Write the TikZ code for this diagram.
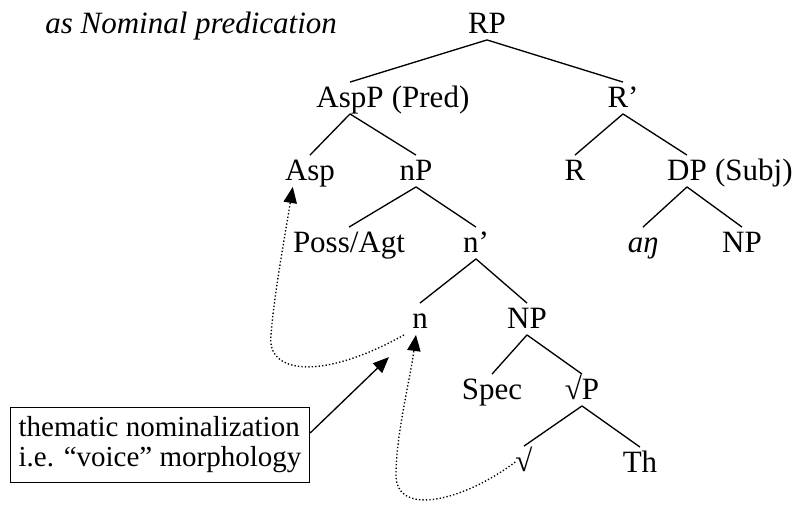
\documentclass[tikz,border=0pt]{standalone}
\usepackage{fontspec}
\setmainfont{Liberation Serif}
\usetikzlibrary{positioning, arrows.meta}
\newcommand\treefont{\fontsize{23.25}{26}\selectfont}
\newcommand\notefont{\fontsize{21.75}{22.5}\selectfont}

\begin{document}
\begin{tikzpicture}[
    x=0.75pt, y=-0.75pt,
    cat/.style={font=\treefont, anchor=base, inner xsep=0pt, inner ysep=3pt, text height=15.5pt, text depth=2pt},
    branch/.style={line width=1pt},
    movement/.style={line width=1pt, dash pattern=on 1pt off 1.6pt, -{Triangle[length=12pt, width=10pt]}},
    pointer/.style={line width=1pt, -{Triangle[length=12pt, width=10pt]}},
    notebox/.style={draw, line width=1.2pt, font=\notefont, align=left, inner xsep=6pt, inner ysep=7pt}
]
    \useasboundingbox (0,0) rectangle (796,508);

    % heading of the example
    \node[font=\treefont\itshape, anchor=base west, inner sep=0pt] (title) at (45,33) {as Nominal predication};

    % the tree, one row at a time
    \node[cat] (RP) at (487,33) {RP};
    \node[cat] (AspP) at (350,107) {AspP};
    \node[cat, right=5.8pt of AspP] (pred) {(Pred)};
    \node[cat] (Rbar) at (623,107) {R’};
    \node[cat] (Asp) at (310,180) {Asp};
    \node[cat] (nP) at (416,180) {nP};
    \node[cat] (R) at (575,180) {R};
    \node[cat] (DP) at (687,180) {DP};
    \node[cat, right=5.8pt of DP] (subj) {(Subj)};
    \node[cat] (poss) at (349,252) {Poss/Agt};
    \node[cat] (nbar) at (476,252) {n’};
    \node[cat, font=\treefont\itshape] (ang) at (643,252) {aŋ};
    \node[cat] (NPs) at (742,252) {NP};
    \node[cat] (n) at (420,328) {n};
    \node[cat] (NP) at (527,328) {NP};
    \node[cat] (spec) at (492,399) {Spec};
    \node[cat] (rootP) at (582,399) {√P};
    \node[cat] (root) at (524,471) {√};
    \node[cat] (Th) at (640,472) {Th};

    % comment box
    \node[notebox] (note) at (160,445) {thematic nominalization\\i.e. “voice” morphology};

    % branches
    \draw[branch] (RP.south) -- (AspP.north);
    \draw[branch] (RP.south) -- (Rbar.north);
    \draw[branch] (AspP.south) -- (Asp.north);
    \draw[branch] (AspP.south) -- (nP.north);
    \draw[branch] (Rbar.south) -- (R.north);
    \draw[branch] (Rbar.south) -- (DP.north);
    \draw[branch] (nP.south) -- (poss.north);
    \draw[branch] (nP.south) -- (nbar.north);
    \draw[branch] (DP.south) -- (ang.north);
    \draw[branch] (DP.south) -- (NPs.north);
    \draw[branch] (nbar.south) -- (n.north);
    \draw[branch] (nbar.south) -- (NP.north);
    \draw[branch] (NP.south) -- (spec.north);
    \draw[branch] (NP.south) -- (rootP.north);
    \draw[branch] (rootP.south) -- (root.north);
    \draw[branch] (rootP.south) -- (Th.north);

    % movement
    \draw[movement] ([xshift=-6pt]n.south west) .. controls +(-80,45) and +(-5,40) .. (271,335)
        .. controls +(3,-40) and +(-8,50) .. ([xshift=6pt]Asp.south west);
    \draw[movement] (root.west) .. controls +(-50,38) and +(0,43) .. (396,475)
        .. controls +(0,-40) and +(-6,45) .. ([xshift=3pt]n.south west);
    \draw[pointer, shorten >=24pt] ([yshift=9pt]note.east) -- (n.south west);
\end{tikzpicture}
\end{document}
